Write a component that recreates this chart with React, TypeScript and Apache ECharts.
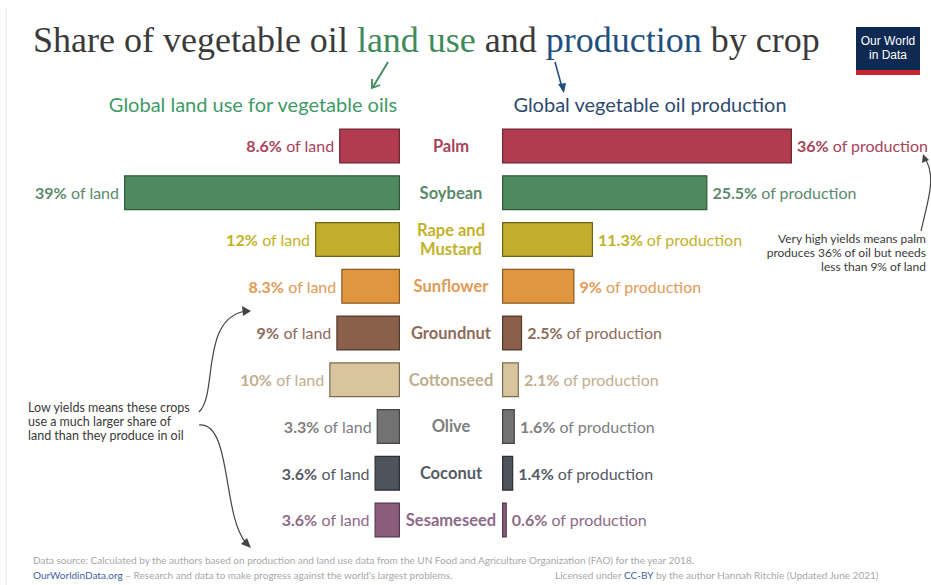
import React, { useEffect, useRef } from "react";
import * as echarts from "echarts";

const crops = ["Palm", "Soybean", "Rape and\nMustard", "Sunflower", "Groundnut", "Cottonseed", "Olive", "Coconut", "Sesameseed"];
const landShare = [8.6, 39, 12, 8.3, 9, 10, 3.3, 3.6, 3.6];
const productionShare = [36, 25.5, 11.3, 9, 2.5, 2.1, 1.6, 1.4, 0.6];
const barColors = ["#b23c4f", "#4f8a5e", "#c2ae2c", "#e0963f", "#8a604a", "#d8c59e", "#727272", "#4e535c", "#8b5c7c"];
const borderColors = ["#6e2632", "#2f5a3b", "#6e6418", "#8a5a24", "#553a2c", "#7a6c50", "#444444", "#2c2f35", "#553a4c"];
const labelColors = ["#a8435a", "#5a8a6e", "#c2b22a", "#e29a55", "#8d6b5a", "#bfae8e", "#7e7e7e", "#555a64", "#8e6a88"];

export default function App() {
  const ref = useRef<HTMLDivElement>(null);
  useEffect(() => {
    const chart = echarts.init(ref.current!, null, { renderer: "svg" });
    const font = "Lato, 'Noto Sans', sans-serif";
    const top = 122.6;
    const height = 420.75;
    const valueLabel = (suffix: string) => ({
      show: true,
      distance: 5,
      formatter: (p: any) => `{b|${p.value}%}{n| ${suffix}}`,
      rich: {
        b: { fontFamily: font, fontSize: 16, fontWeight: "bold" },
        n: { fontFamily: font, fontSize: 16 },
      },
    });
    chart.setOption({
      animation: false,
      backgroundColor: "#ffffff",
      grid: [
        { left: 124, width: 276, top, height },
        { left: 502, width: 290, top, height },
      ],
      xAxis: [
        { type: "value", gridIndex: 0, inverse: true, min: 0, max: 39, show: false },
        { type: "value", gridIndex: 1, min: 0, max: 36, show: false },
      ],
      yAxis: [
        { type: "category", gridIndex: 0, inverse: true, data: crops, show: false },
        {
          type: "category",
          gridIndex: 1,
          inverse: true,
          data: crops,
          axisLine: { show: false },
          axisTick: { show: false },
          axisLabel: {
            margin: 51,
            align: "center",
            fontFamily: font,
            fontSize: 16.5,
            fontWeight: "bold",
            lineHeight: 19,
            color: (v: string) => labelColors[crops.indexOf(v)],
          },
        },
      ],
      series: [
        {
          type: "bar",
          xAxisIndex: 0,
          yAxisIndex: 0,
          barWidth: "75%",
          data: landShare.map((v, i) => ({
            value: v,
            itemStyle: { color: barColors[i], borderColor: borderColors[i], borderWidth: 1.2 },
            label: { ...valueLabel("of land"), position: "left", color: labelColors[i] },
          })),
        },
        {
          type: "bar",
          xAxisIndex: 1,
          yAxisIndex: 1,
          barWidth: "75%",
          data: productionShare.map((v, i) => ({
            value: v,
            itemStyle: { color: barColors[i], borderColor: borderColors[i], borderWidth: 1.2 },
            label: { ...valueLabel("of production"), position: "right", color: labelColors[i] },
          })),
        },
      ],
      graphic: [
        { type: "line", shape: { x1: 6, y1: 8, x2: 6, y2: 585 }, style: { stroke: "#e4e4e4", lineWidth: 1 } },
        {
          type: "text",
          left: 33,
          top: 22,
          style: {
            text: "{a|Share of vegetable oil }{g|land use}{a| and }{p|production}{a| by crop}",
            rich: {
              a: { fontFamily: "'Liberation Serif', serif", fontSize: 36, fill: "#3a3a3a" },
              g: { fontFamily: "'Liberation Serif', serif", fontSize: 36, fill: "#3e8a5a" },
              p: { fontFamily: "'Liberation Serif', serif", fontSize: 36, fill: "#22507e" },
            },
          },
        },
        { type: "rect", shape: { x: 856, y: 27, width: 64, height: 48 }, style: { fill: "#0e2a52" } },
        { type: "rect", shape: { x: 856, y: 70, width: 64, height: 5 }, style: { fill: "#c8262e" } },
        {
          type: "text",
          x: 888,
          y: 48,
          style: {
            text: "Our World\nin Data",
            fontFamily: "'Liberation Sans Narrow', 'Liberation Sans', sans-serif",
            fontSize: 12,
            lineHeight: 14,
            fill: "#ffffff",
            align: "center",
            verticalAlign: "middle",
          },
        },
        { type: "line", shape: { x1: 388, y1: 62, x2: 373, y2: 87 }, style: { stroke: "#3e8a5a", lineWidth: 1.8 } },
        { type: "polyline", shape: { points: [[372, 79], [372, 88], [380, 85]] }, style: { stroke: "#3e8a5a", lineWidth: 1.8, fill: null } },
        { type: "line", shape: { x1: 555, y1: 62, x2: 563, y2: 91 }, style: { stroke: "#22507e", lineWidth: 1.6 } },
        { type: "polygon", shape: { points: [[564, 93], [558, 84], [566, 83]] }, style: { fill: "#22507e" } },
        {
          type: "text",
          x: 253,
          y: 104,
          style: { text: "Global land use for vegetable oils", fontFamily: font, fontSize: 20, fill: "#3f9a66", align: "center", verticalAlign: "middle" },
        },
        {
          type: "text",
          x: 650,
          y: 104,
          style: { text: "Global vegetable oil production", fontFamily: font, fontSize: 20, fill: "#2e4a70", align: "center", verticalAlign: "middle" },
        },
        {
          type: "text",
          x: 28,
          y: 400,
          style: {
            text: "Low yields means these crops\nuse a much larger share of\nland than they produce in oil",
            fontFamily: font,
            fontSize: 12.5,
            lineHeight: 14,
            fill: "#3a3a3a",
          },
        },
        { type: "bezierCurve", shape: { x1: 199, y1: 412, cpx1: 218, cpy1: 395, cpx2: 200, cpy2: 318, x2: 246, y2: 311 }, style: { stroke: "#444", lineWidth: 1.2, fill: null } },
        { type: "polygon", shape: { points: [[251, 311], [242, 306], [243, 316]] }, style: { fill: "#444" } },
        { type: "bezierCurve", shape: { x1: 199, y1: 425, cpx1: 232, cpy1: 422, cpx2: 222, cpy2: 515, x2: 246, y2: 543 }, style: { stroke: "#444", lineWidth: 1.2, fill: null } },
        { type: "polygon", shape: { points: [[251, 548], [241, 544], [247, 538]] }, style: { fill: "#444" } },
        {
          type: "text",
          x: 926,
          y: 231,
          style: {
            text: "Very high yields means palm\nproduces 36% of oil but needs\nless than 9% of land",
            fontFamily: font,
            fontSize: 12,
            lineHeight: 14,
            fill: "#3a3a3a",
            align: "right",
          },
        },
        { type: "bezierCurve", shape: { x1: 921, y1: 231, cpx1: 928, cpy1: 200, cpx2: 936, cpy2: 178, x2: 926, y2: 160 }, style: { stroke: "#444", lineWidth: 1.2, fill: null } },
        { type: "polygon", shape: { points: [[923, 154], [922, 163], [929, 160]] }, style: { fill: "#444" } },
        {
          type: "text",
          x: 33,
          y: 555,
          style: {
            text: "Data source: Calculated by the authors based on production and land use data from the UN Food and Agriculture Organization (FAO) for the year 2018.",
            fontFamily: font,
            fontSize: 10,
            fill: "#a8a8a8",
          },
        },
        {
          type: "text",
          x: 33,
          y: 570,
          style: {
            text: "{l|OurWorldinData.org}{g| – Research and data to make progress against the world's largest problems.}",
            rich: {
              l: { fontFamily: font, fontSize: 10, fill: "#3f5fa0" },
              g: { fontFamily: font, fontSize: 10, fill: "#a8a8a8" },
            },
          },
        },
        {
          type: "text",
          x: 555,
          y: 570,
          style: {
            text: "{g|Licensed under }{l|CC-BY}{g| by the author Hannah Ritchie (Updated June 2021)}",
            rich: {
              l: { fontFamily: font, fontSize: 10, fill: "#3f5fa0" },
              g: { fontFamily: font, fontSize: 10, fill: "#a8a8a8" },
            },
          },
        },
      ],
    });
    return () => chart.dispose();
  }, []);
  return <div ref={ref} style={{ position: "absolute", left: 0, top: 0, width: 931, height: 585 }} />;
}
